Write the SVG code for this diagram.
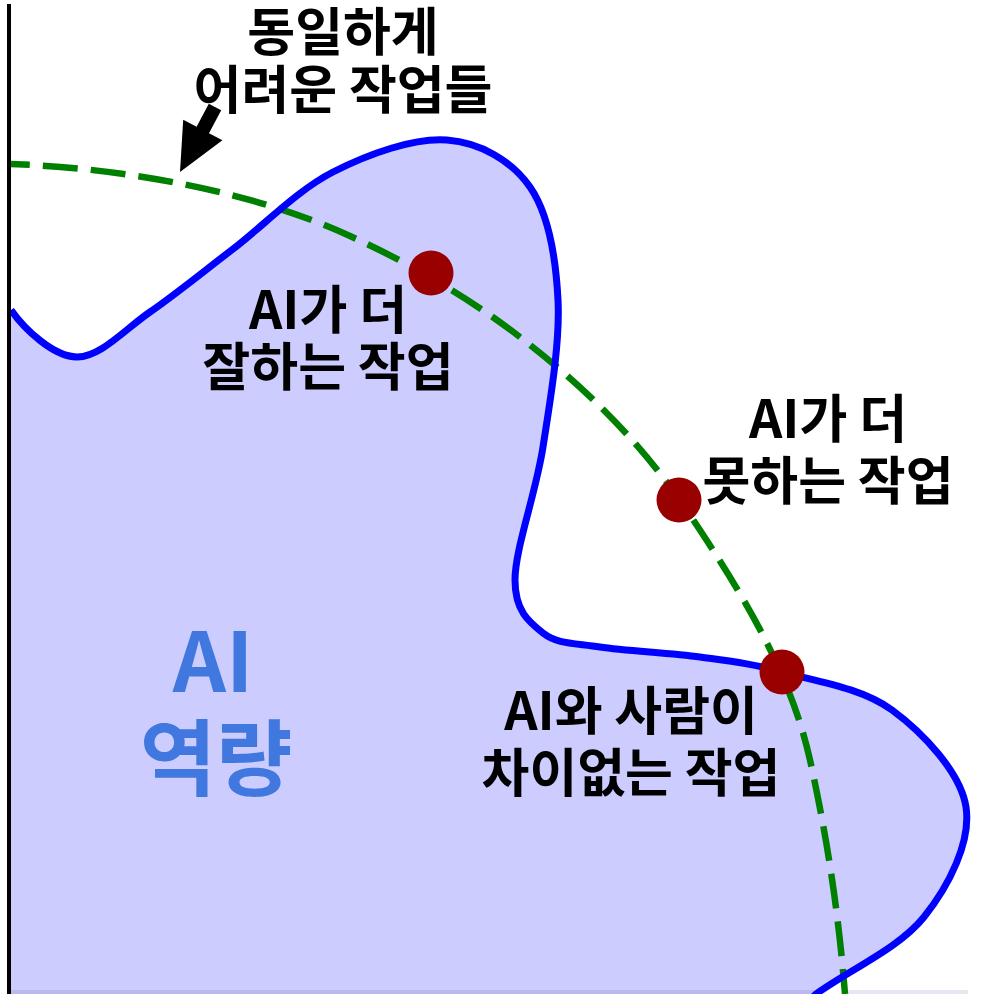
<svg xmlns="http://www.w3.org/2000/svg" width="999" height="994" viewBox="0 0 999 994">
  <style>
    .lbl { font-family: 'Noto Sans CJK KR', 'Noto Sans', sans-serif; font-weight: 700; font-size: 52px; fill: #000; text-anchor: middle; }
    .big { font-family: 'Noto Sans CJK KR', 'Noto Sans', sans-serif; font-weight: 700; font-size: 83px; fill: #4078e0; text-anchor: middle; }
    .dot { fill: #990000; }
  </style>
  <rect width="999" height="994" fill="#ffffff"/>

  <g id="ai-capability">
    <path id="region-fill" fill="#ccccff" d="M 11 310 C 25 330, 53.8 356.7, 77 357 C 100.2 357.3, 124 330, 150 312 C 176 294, 202.5 272.3, 233 249 C 263.5 225.7, 297.3 190.2, 333 172 C 368.7 153.8, 414.2 137.5, 447 140 C 479.8 142.5, 511.5 160.3, 530 187 C 548.5 213.7, 555.8 256.7, 558 300 C 560.2 343.3, 550.2 400.3, 543 447 C 535.8 493.7, 515 549, 515 580 C 515 611, 528.8 621.8, 543 633 C 557.2 644.2, 573.8 643, 600 647 C 626.2 651, 669.7 652.8, 700 657 C 730.3 661.2, 750 663.2, 782 672 C 814 680.8, 861.3 687.5, 892 710 C 922.7 732.5, 960.7 772.5, 966 807 C 971.3 841.5, 949 885.8, 924 917 C 899 948.2, 852 968.3, 816 994 L 810 1000 L 11 1000 Z"/>
    <rect x="11" y="990" width="805" height="4" fill="#babaf0"/>
    <rect x="847" y="990" width="121" height="4" fill="#e6e6f0"/>
  </g>

  <g id="connectors">
    <path id="difficulty-contour" fill="none" stroke="#008000" stroke-width="6.5" stroke-dasharray="35 13" stroke-dashoffset="16" d="M 11 164 C 120 168, 250 190, 350 236 C 420 268, 480 305, 530 345 C 600 400, 650 455, 690 515 C 740 590, 790 670, 810 760 C 830 850, 840 930, 845 994"/>
    <path id="arrow" fill="#000" d="M 208.8 103.7 L 221.2 110.3 L 209 133.3 L 222.4 140.3 L 180 172 L 183.2 119.7 L 196.6 126.7 Z"/>
  </g>

  <g id="ai-boundary">
    <path fill="none" stroke="#0000ff" stroke-width="7" stroke-linejoin="round" d="M 11 310 C 25 330, 53.8 356.7, 77 357 C 100.2 357.3, 124 330, 150 312 C 176 294, 202.5 272.3, 233 249 C 263.5 225.7, 297.3 190.2, 333 172 C 368.7 153.8, 414.2 137.5, 447 140 C 479.8 142.5, 511.5 160.3, 530 187 C 548.5 213.7, 555.8 256.7, 558 300 C 560.2 343.3, 550.2 400.3, 543 447 C 535.8 493.7, 515 549, 515 580 C 515 611, 528.8 621.8, 543 633 C 557.2 644.2, 573.8 643, 600 647 C 626.2 651, 669.7 652.8, 700 657 C 730.3 661.2, 750 663.2, 782 672 C 814 680.8, 861.3 687.5, 892 710 C 922.7 732.5, 960.7 772.5, 966 807 C 971.3 841.5, 949 885.8, 924 917 C 899 948.2, 852 968.3, 816 994 L 810 1000"/>
  </g>

  <rect id="axis" x="7" y="4" width="4" height="990" fill="#000"/>

  <g id="dot-better">
    <circle class="dot" cx="431" cy="273" r="22.5"/>
  </g>
  <g id="dot-worse">
    <circle class="dot" cx="679" cy="500" r="22.5"/>
  </g>
  <g id="dot-same">
    <circle class="dot" cx="782" cy="672" r="22.5"/>
  </g>

  <g id="label-hard">
    <text class="lbl" x="343" y="51">동일하게</text>
    <text class="lbl" x="343" y="109">어려운 작업들</text>
  </g>
  <g id="label-better">
    <text class="lbl" x="328" y="329">AI가 더</text>
    <text class="lbl" x="328" y="386">잘하는 작업</text>
  </g>
  <g id="label-worse">
    <text class="lbl" x="828" y="438">AI가 더</text>
    <text class="lbl" x="828" y="500">못하는 작업</text>
  </g>
  <g id="label-same">
    <text class="lbl" x="631" y="730">AI와 사람이</text>
    <text class="lbl" x="631" y="792">차이없는 작업</text>
  </g>
  <g id="label-capability">
    <text class="big" x="213" y="692">AI</text>
    <text class="big" x="216" y="789">역량</text>
  </g>
</svg>
